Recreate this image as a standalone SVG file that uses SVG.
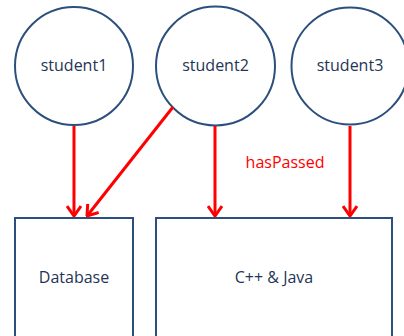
<svg xmlns="http://www.w3.org/2000/svg" width="404" height="336" viewBox="0 0 404 336">
<style>
.node{fill:#fff;stroke:#2c4f7c;stroke-width:2}
.lbl{font-family:"Open Sans","Liberation Sans",sans-serif;font-size:16px;fill:#1f3556;text-anchor:middle}
.edge{stroke:#ff0000;stroke-width:3;fill:none}
.elbl{font-family:"Open Sans","Liberation Sans",sans-serif;font-size:16px;fill:#ff0000;text-anchor:middle}
</style>
<defs>
<marker id="arr" viewBox="0 0 12 16" refX="11" refY="8" markerWidth="12" markerHeight="16" markerUnits="userSpaceOnUse" orient="auto">
<path d="M1,1 L11,8 L1,15" fill="none" stroke="#ff0000" stroke-width="3"/>
</marker>
</defs>
<rect width="404" height="336" fill="#fff"/>
<g id="student1"><circle class="node" cx="74" cy="66" r="59"/><text class="lbl" x="74" y="71">student1</text></g>
<g id="student2"><circle class="node" cx="215.5" cy="66" r="59.5"/><text class="lbl" x="215.5" y="71">student2</text></g>
<g id="student3"><circle class="node" cx="350" cy="66" r="58.5"/><text class="lbl" x="350" y="71">student3</text></g>
<g id="database"><rect class="node" x="15" y="218" width="118" height="130"/><text class="lbl" x="74" y="283">Database</text></g>
<g id="cppjava"><rect class="node" x="156" y="218" width="236" height="130"/><text class="lbl" x="274" y="283">C++ &amp; Java</text></g>
<g id="connectors">
<line class="edge" x1="74" y1="126" x2="74" y2="216" marker-end="url(#arr)"/>
<line class="edge" x1="173" y1="107" x2="87" y2="216" marker-end="url(#arr)"/>
<line class="edge" x1="215" y1="126" x2="215" y2="216" marker-end="url(#arr)"/>
<line class="edge" x1="350" y1="126" x2="350" y2="216" marker-end="url(#arr)"/>
<text class="elbl" x="285" y="168">hasPassed</text>
</g>
</svg>
